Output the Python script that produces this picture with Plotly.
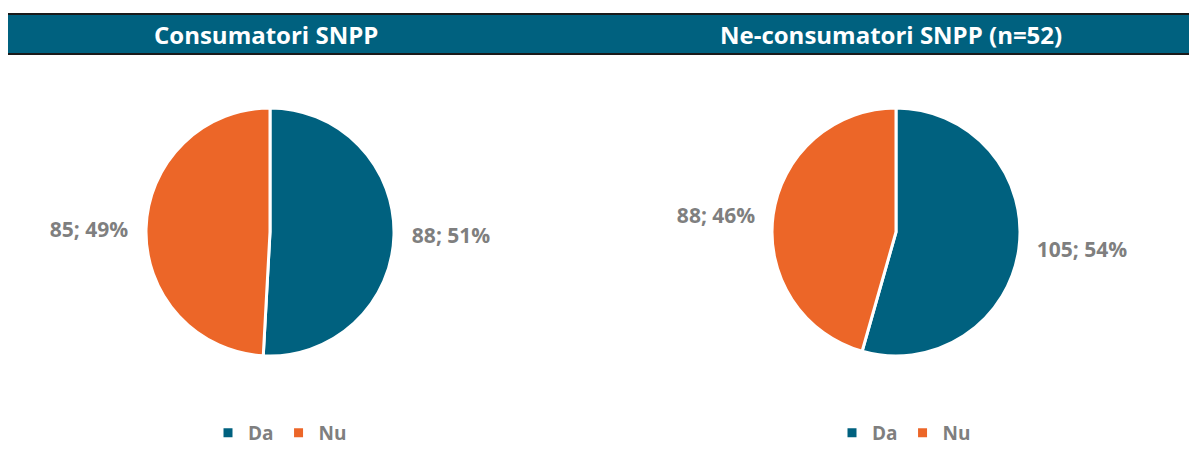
import plotly.graph_objects as go

labels = ["Da", "Nu"]
consumatori_values = [88, 85]
neconsumatori_values = [105, 88]
titles = ["Consumatori SNPP", "Ne-consumatori SNPP (n=52)"]
colors = ["#00617F", "#EC6628"]

W, H = 1189, 469
FONT = "Open Sans"
GRAY = "#7F7F7F"
NB = "\u00a0\u00a0"

def px_x(x):
    return x / W

def px_y(y):
    return 1 - y / H

fig = go.Figure()

# second pie gets its own legend; a zero-width suffix keeps its legend items separate
pie_specs = [
    (consumatori_values, labels, 270, "legend"),
    (neconsumatori_values, [l + "\u200b" for l in labels], 896, "legend2"),
]
R = 124
CY = 232
for vals, labs, cx, leg in pie_specs:
    fig.add_trace(go.Pie(
        labels=labs,
        values=vals,
        sort=False,
        direction="clockwise",
        rotation=0,
        marker=dict(colors=colors, line=dict(color="white", width=3)),
        textposition="outside",
        texttemplate=[NB + "%{value}; %{percent:.0%}", "%{value}; %{percent:.0%}" + NB],
        textfont=dict(family=FONT, size=21, color=GRAY, weight="bold"),
        domain=dict(x=[px_x(cx - R), px_x(cx + R)], y=[px_y(CY + R), px_y(CY - R)]),
        legend=leg,
        hoverinfo="label+value+percent",
    ))

shapes = [
    dict(type="rect", xref="paper", yref="paper", x0=px_x(8), x1=px_x(1189),
         y0=px_y(55), y1=px_y(13), fillcolor="#00617F", line=dict(width=0), layer="below"),
    dict(type="line", xref="paper", yref="paper", x0=px_x(8), x1=px_x(1189),
         y0=px_y(14), y1=px_y(14), line=dict(color="#1a1a1a", width=2)),
    dict(type="line", xref="paper", yref="paper", x0=px_x(8), x1=px_x(1189),
         y0=px_y(54), y1=px_y(54), line=dict(color="#1a1a1a", width=2)),
]

annotations = [
    dict(text=titles[0], x=px_x(266), y=px_y(34), xref="paper", yref="paper",
         showarrow=False, xanchor="center", yanchor="middle",
         font=dict(family=FONT, size=24, color="white", weight="bold")),
    dict(text=titles[1], x=px_x(891), y=px_y(34), xref="paper", yref="paper",
         showarrow=False, xanchor="center", yanchor="middle",
         font=dict(family=FONT, size=24, color="white", weight="bold")),
]

legend_common = dict(orientation="h", xanchor="center", yanchor="middle",
                     y=px_y(433), font=dict(family=FONT, size=19, color=GRAY, weight="bold"),
                     bgcolor="rgba(0,0,0,0)", itemwidth=30)

fig.update_layout(
    width=W, height=H,
    margin=dict(l=0, r=0, t=0, b=0),
    paper_bgcolor="white",
    plot_bgcolor="white",
    shapes=shapes,
    annotations=annotations,
    showlegend=True,
    legend=dict(x=px_x(280), **legend_common),
    legend2=dict(x=px_x(904), **legend_common),
)

fig.write_html(
    "out.html",
    config={"displayModeBar": False},
    post_script="document.body.style.margin='0';document.body.style.overflow='hidden';",
)
